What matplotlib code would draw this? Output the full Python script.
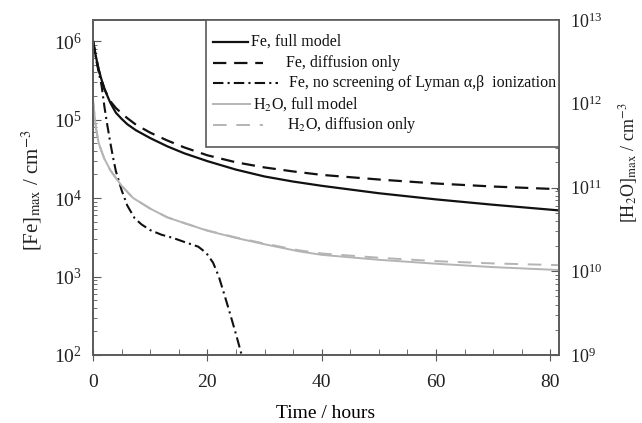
import matplotlib
matplotlib.use("Agg")
import matplotlib.pyplot as plt
from matplotlib.lines import Line2D
from matplotlib.patches import Rectangle
from matplotlib.ticker import LogLocator, MultipleLocator, FixedLocator

plt.rcParams['font.family'] = ['Liberation Serif', 'DejaVu Serif']
plt.rcParams['mathtext.fontset'] = 'stix'

# ---- data ----
t_fe = [0, 0.5, 1, 1.5, 2, 3, 4, 5, 6, 7.5, 10, 13, 16, 20, 25, 30, 35, 40, 50, 60, 70, 82]
fe_full = [1e6, 6.4e5, 4.3e5, 3.2e5, 2.45e5, 1.65e5, 1.22e5, 1.02e5, 8.7e4, 7.3e4, 5.8e4,
           4.55e4, 3.7e4, 2.95e4, 2.3e4, 1.88e4, 1.62e4, 1.43e4, 1.15e4, 9.6e3, 8.2e3, 6.9e3]
fe_diff = [1e6, 6.4e5, 4.3e5, 3.2e5, 2.45e5, 1.72e5, 1.4e5, 1.2e5, 1.04e5, 8.6e4, 6.8e4,
           5.4e4, 4.4e4, 3.5e4, 2.85e4, 2.45e4, 2.18e4, 1.97e4, 1.72e4, 1.53e4, 1.4e4, 1.29e4]

t_fe_noscr = [0, 0.6, 1.5, 2, 2.5, 3, 3.5, 4, 5, 6, 7.3, 8.5, 10, 12, 14, 16, 18.4, 19.8,
              21, 22, 23, 24, 25, 26, 26.5]
fe_noscr = [1e6, 5.5e5, 2.7e5, 1.45e5, 8.5e4, 5.2e4, 3.3e4, 2.2e4, 1.26e4, 8e3, 5.5e3,
            4.6e3, 3.9e3, 3.4e3, 3.1e3, 2.75e3, 2.4e3, 2.0e3, 1.5e3, 1.0e3, 580, 330,
            185, 100, 78]

t_h2o = [0, 0.5, 1, 1.5, 2, 3, 4, 5, 7, 10, 13, 16, 20, 25, 30, 36, 40, 50, 60, 70, 82]
h2o_full = [1.1e12, 5.2e11, 3.4e11, 2.7e11, 2.2e11, 1.62e11, 1.3e11, 1.05e11, 7.5e10,
            5.6e10, 4.4e10, 3.75e10, 3.05e10, 2.5e10, 2.1e10, 1.73e10, 1.57e10,
            1.37e10, 1.23e10, 1.12e10, 1.03e10]
h2o_diff = [1.1e12, 5.2e11, 3.4e11, 2.7e11, 2.2e11, 1.62e11, 1.3e11, 1.05e11, 7.5e10,
            5.6e10, 4.4e10, 3.75e10, 3.07e10, 2.53e10, 2.14e10, 1.78e10, 1.63e10,
            1.45e10, 1.32e10, 1.24e10, 1.18e10]

labels = ["Fe, full model", "Fe, diffusion only",
          "Fe, no screening of Lyman α,β  ionization",
          r"H$_2$O, full model", r"H$_2$O, diffusion only"]

# ---- figure ----
fig = plt.figure(figsize=(6.42, 4.23), dpi=100)
ax = fig.add_axes([93/642, 1-355/423, 466/642, 335/423])
ax2 = ax.twinx()

black = '#111111'
gray = '#b4b4b4'
frame = '#5a5a5a'

st_full = dict(color=black, lw=1.6, ls='-')
st_diff = dict(color=black, lw=1.6, ls=(0, (6, 3.5)))
st_noscr = dict(color=black, lw=1.5, ls=(0, (5, 2, 1, 2)))
st_h2of = dict(color=gray, lw=1.4, ls='-')
st_h2od = dict(color=gray, lw=1.4, ls=(0, (7, 5)))

ax.plot(t_fe, fe_full, **st_full)
ax.plot(t_fe, fe_diff, **st_diff)
ax.plot(t_fe_noscr, fe_noscr, **st_noscr)
ax2.plot(t_h2o, h2o_diff, **st_h2od)
ax2.plot(t_h2o, h2o_full, **st_h2of)

ax.set_yscale('log')
ax2.set_yscale('log')
ax.set_xlim(0, 81.5)
ax.set_ylim(1e2, 10**(2 + 335/78.5))
ax2.set_ylim(1e9, 1e13)

ax.xaxis.set_major_locator(FixedLocator([0, 20, 40, 60, 80]))
ax.xaxis.set_minor_locator(MultipleLocator(5))

for a in (ax, ax2):
    for s in a.spines.values():
        s.set_color(frame)
        s.set_linewidth(1.2)
    a.tick_params(which='both', colors=frame, labelcolor='#222222', labelsize=14)
    a.yaxis.set_major_locator(LogLocator(base=10, numticks=20))
    a.yaxis.set_minor_locator(LogLocator(base=10, subs=range(2, 10), numticks=20))

ax.tick_params(axis='y', which='major', direction='in', length=6, pad=8)
ax.tick_params(axis='y', which='minor', direction='in', length=3)
ax2.tick_params(axis='y', which='major', direction='in', length=6, pad=8, labelsize=13)
ax2.tick_params(axis='y', which='minor', direction='in', length=3)
ax.tick_params(axis='x', which='major', direction='inout', length=8, pad=10)
ax.tick_params(axis='x', which='minor', direction='in', length=4)

ax.set_xlabel("Time / hours", fontsize=14, labelpad=10)
fig.text(32/642, 1-190/423, r"[Fe]$_{\mathrm{max}}$ / cm$^{-3}$", fontsize=15,
         rotation=90, ha='center', va='center', color='#222222')
fig.text(628/642, 1-163/423, r"[H$_2$O]$_{\mathrm{max}}$ / cm$^{-3}$", fontsize=13,
         rotation=90, ha='center', va='center', color='#222222')

# ---- legend (manual, matching reference layout) ----
def fx(px):
    return (px - 93) / 466

def fy(py):
    return (355 - py) / 335

box = Rectangle((fx(206), fy(147)), 1 - fx(206), fy(20) - fy(147),
                transform=ax2.transAxes, facecolor='white', edgecolor=frame,
                lw=1.2, zorder=5)
ax2.add_patch(box)
styles = [st_full, st_diff, st_noscr, st_h2of, st_h2od]
rows = [41.7, 63.3, 83.3, 104.3, 125]
h_end = [248, 263, 278, 250, 263]
t_start = [251, 286, 289, 253, 287]
for st, r, he, ts, lab in zip(styles, rows, h_end, t_start, labels):
    ax2.add_line(Line2D([fx(213), fx(he)], [fy(r), fy(r)], transform=ax2.transAxes,
                        zorder=6, **st))
    ax2.text(fx(ts), fy(r), lab, transform=ax2.transAxes, fontsize=11.5,
             va='center', ha='left', zorder=6, color='#111111')

fig.savefig("out.png", dpi=100)
